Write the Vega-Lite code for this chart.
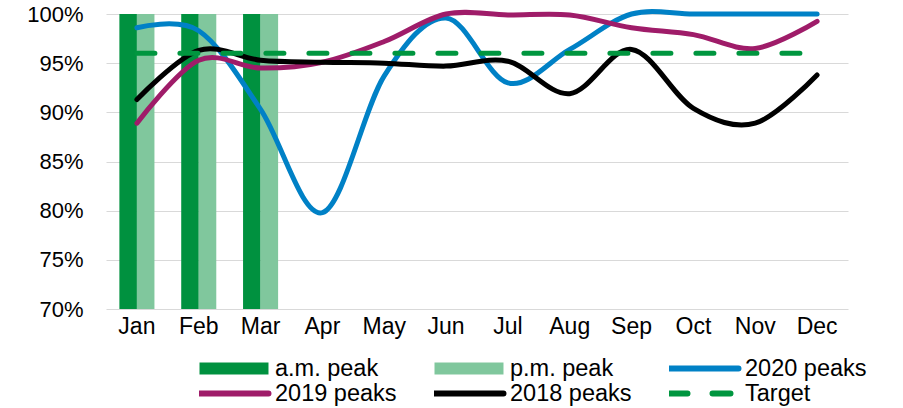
{
  "$schema": "https://vega.github.io/schema/vega-lite/v6.json",
  "width": 742,
  "height": 295,
  "autosize": {"type": "none"},
  "padding": {"left": 106, "top": 14, "right": 55, "bottom": 99},
  "config": {"view": {"stroke": null}, "font": "Liberation Sans"},
  "data": {
    "values": [
      {"month": "Jan", "series": "a.m. peak", "value": 100},
      {"month": "Feb", "series": "a.m. peak", "value": 100},
      {"month": "Mar", "series": "a.m. peak", "value": 100},
      {"month": "Jan", "series": "p.m. peak", "value": 100},
      {"month": "Feb", "series": "p.m. peak", "value": 100},
      {"month": "Mar", "series": "p.m. peak", "value": 100},
      {"month": "Jan", "series": "2020 peaks", "value": 98.6},
      {"month": "Feb", "series": "2020 peaks", "value": 98.3},
      {"month": "Mar", "series": "2020 peaks", "value": 90.3},
      {"month": "Apr", "series": "2020 peaks", "value": 79.8},
      {"month": "May", "series": "2020 peaks", "value": 93.7},
      {"month": "Jun", "series": "2020 peaks", "value": 99.6},
      {"month": "Jul", "series": "2020 peaks", "value": 93.0},
      {"month": "Aug", "series": "2020 peaks", "value": 96.4},
      {"month": "Sep", "series": "2020 peaks", "value": 100},
      {"month": "Oct", "series": "2020 peaks", "value": 100},
      {"month": "Nov", "series": "2020 peaks", "value": 100},
      {"month": "Dec", "series": "2020 peaks", "value": 100},
      {"month": "Jan", "series": "2019 peaks", "value": 88.9},
      {"month": "Feb", "series": "2019 peaks", "value": 95.3},
      {"month": "Mar", "series": "2019 peaks", "value": 94.5},
      {"month": "Apr", "series": "2019 peaks", "value": 95.1},
      {"month": "May", "series": "2019 peaks", "value": 97.2},
      {"month": "Jun", "series": "2019 peaks", "value": 100},
      {"month": "Jul", "series": "2019 peaks", "value": 99.9},
      {"month": "Aug", "series": "2019 peaks", "value": 99.9},
      {"month": "Sep", "series": "2019 peaks", "value": 98.6},
      {"month": "Oct", "series": "2019 peaks", "value": 97.9},
      {"month": "Nov", "series": "2019 peaks", "value": 96.5},
      {"month": "Dec", "series": "2019 peaks", "value": 99.25},
      {"month": "Jan", "series": "2018 peaks", "value": 91.3},
      {"month": "Feb", "series": "2018 peaks", "value": 96.3},
      {"month": "Mar", "series": "2018 peaks", "value": 95.3},
      {"month": "Apr", "series": "2018 peaks", "value": 95.1},
      {"month": "May", "series": "2018 peaks", "value": 95.0},
      {"month": "Jun", "series": "2018 peaks", "value": 94.7},
      {"month": "Jul", "series": "2018 peaks", "value": 95.2},
      {"month": "Aug", "series": "2018 peaks", "value": 91.9},
      {"month": "Sep", "series": "2018 peaks", "value": 96.4},
      {"month": "Oct", "series": "2018 peaks", "value": 90.4},
      {"month": "Nov", "series": "2018 peaks", "value": 88.9},
      {"month": "Dec", "series": "2018 peaks", "value": 93.8},
      {"month": "Jan", "series": "Target", "value": 96},
      {"month": "Feb", "series": "Target", "value": 96},
      {"month": "Mar", "series": "Target", "value": 96},
      {"month": "Apr", "series": "Target", "value": 96},
      {"month": "May", "series": "Target", "value": 96},
      {"month": "Jun", "series": "Target", "value": 96},
      {"month": "Jul", "series": "Target", "value": 96},
      {"month": "Aug", "series": "Target", "value": 96},
      {"month": "Sep", "series": "Target", "value": 96},
      {"month": "Oct", "series": "Target", "value": 96},
      {"month": "Nov", "series": "Target", "value": 96},
      {"month": "Dec", "series": "Target", "value": 96}
    ]
  },
  "encoding": {
    "x": {
      "field": "month",
      "type": "nominal",
      "sort": ["Jan", "Feb", "Mar", "Apr", "May", "Jun", "Jul", "Aug", "Sep", "Oct", "Nov", "Dec"],
      "scale": {"paddingInner": 0.433, "paddingOuter": 0.2165},
      "axis": {
        "title": null,
        "labelAngle": 0,
        "domain": false,
        "ticks": false,
        "grid": false,
        "labelFontSize": 23,
        "labelColor": "#000000",
        "labelPadding": 6
      }
    },
    "y": {
      "field": "value",
      "type": "quantitative",
      "scale": {"domain": [70, 100], "nice": false, "zero": false},
      "axis": {
        "title": null,
        "values": [70, 75, 80, 85, 90, 95, 100],
        "labelExpr": "datum.value + '%'",
        "domain": false,
        "ticks": false,
        "grid": true,
        "gridColor": "#d9d9d9",
        "gridWidth": 1,
        "labelFontSize": 22,
        "labelColor": "#000000",
        "labelPadding": 23
      }
    },
    "color": {
      "field": "series",
      "type": "nominal",
      "scale": {
        "domain": ["a.m. peak", "p.m. peak", "2020 peaks", "2019 peaks", "2018 peaks", "Target"],
        "range": ["#00913f", "#80c79d", "#0081c6", "#9f1c69", "#000000", "#00963f"]
      },
      "legend": {
        "orient": "none",
        "legendX": 93,
        "legendY": 342,
        "columns": 3,
        "direction": "horizontal",
        "title": null,
        "symbolType": "M-2,0H2",
        "symbolSize": 1190,
        "symbolStrokeWidth": 6,
        "labelFontSize": 23.5,
        "labelFont": "Liberation Sans",
        "labelColor": "#000000",
        "labelOffset": 7,
        "labelLimit": 0,
        "clipHeight": 25,
        "gridAlign": "all",
        "columnPadding": 37,
        "rowPadding": 0,
        "encode": {
          "symbols": {
            "update": {
              "x": {"value": 35},
              "y": {"value": 12.5},
              "stroke": {"scale": "color", "field": "value"},
              "fill": {"value": "transparent"},
              "opacity": {"value": 1},
              "strokeWidth": {"signal": "indexof(['a.m. peak','p.m. peak'], datum.value) >= 0 ? 12 : 6"},
              "strokeDash": {"signal": "datum.value === 'Target' ? [18,25] : [1,0]"},
              "strokeCap": {"signal": "indexof(['a.m. peak','p.m. peak'], datum.value) >= 0 ? 'butt' : 'round'"}
            }
          },
          "labels": {
            "update": {
              "x": {"value": 76},
              "y": {"value": 12.5}
            }
          }
        }
      }
    }
  },
  "layer": [
    {
      "transform": [{"filter": "datum.series === 'a.m. peak' || datum.series === 'p.m. peak'"}],
      "mark": {"type": "bar", "opacity": 1},
      "encoding": {
        "xOffset": {
          "field": "series",
          "type": "nominal",
          "sort": ["a.m. peak", "p.m. peak"],
          "scale": {"paddingInner": 0, "paddingOuter": 0}
        },
        "y2": {"datum": 70}
      }
    },
    {
      "transform": [{"filter": "datum.series === '2020 peaks'"}],
      "mark": {"type": "line", "interpolate": "cardinal", "strokeWidth": 5, "strokeCap": "round"}
    },
    {
      "transform": [{"filter": "datum.series === '2019 peaks'"}],
      "mark": {"type": "line", "interpolate": "cardinal", "strokeWidth": 5, "strokeCap": "round"}
    },
    {
      "transform": [{"filter": "datum.series === '2018 peaks'"}],
      "mark": {"type": "line", "interpolate": "cardinal", "strokeWidth": 5, "strokeCap": "round"}
    },
    {
      "transform": [{"filter": "datum.series === 'Target'"}],
      "mark": {"type": "line", "strokeWidth": 5, "strokeCap": "round", "strokeDash": [18, 25]}
    }
  ]
}
